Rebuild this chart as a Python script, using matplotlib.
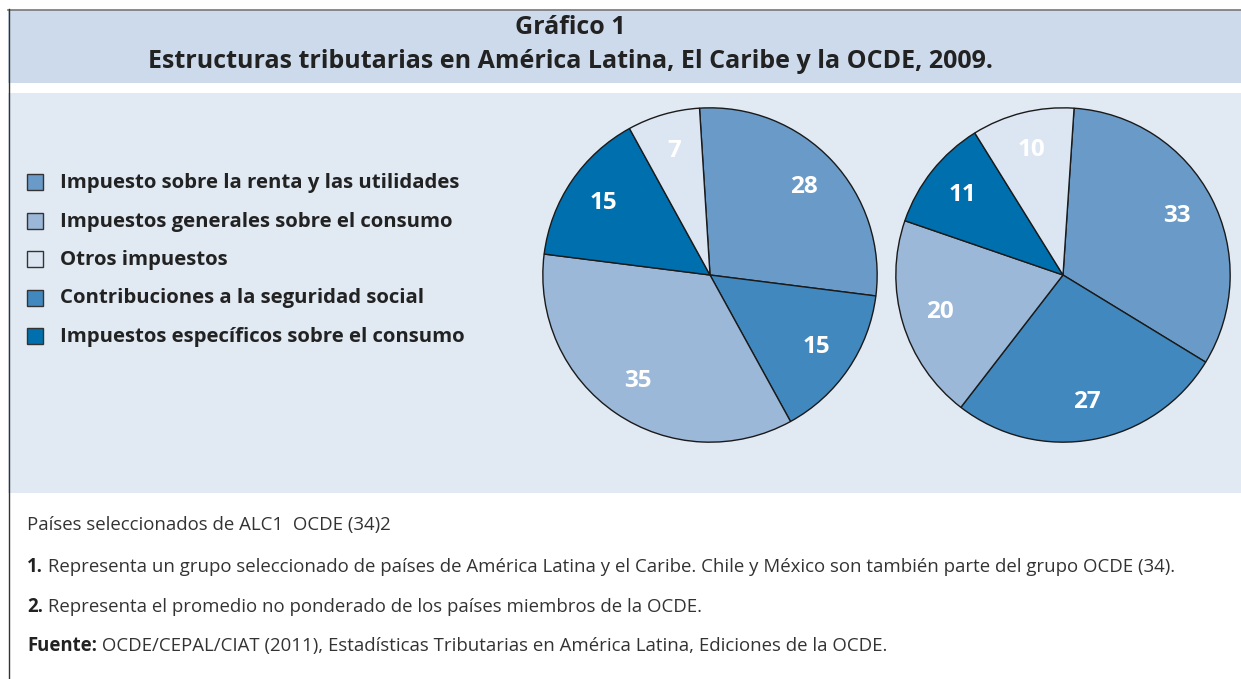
import matplotlib.pyplot as plt
from matplotlib.patches import Rectangle

# Categories in legend order
categories = [
    "Impuesto sobre la renta y las utilidades",
    "Impuestos generales sobre el consumo",
    "Otros impuestos",
    "Contribuciones a la seguridad social",
    "Impuestos específicos sobre el consumo",
]
colors = ["#6a9bc8", "#9cb8d8", "#dce6f2", "#4088be", "#006fae"]

# Shares (%) per category, legend order
alc_values = [28, 35, 7, 15, 15]
ocde_values = [33, 20, 10, 27, 11]

# Order in which the slices go round the pie (clockwise from the top)
pie_order = [0, 3, 1, 4, 2]

title_lines = ["Gráfico 1",
               "Estructuras tributarias en América Latina, El Caribe y la OCDE, 2009."]
subtitle = "Países seleccionados de ALC1  OCDE (34)2"
notes = [
    ("1.", " Representa un grupo seleccionado de países de América Latina y el Caribe. "
           "Chile y México son también parte del grupo OCDE (34)."),
    ("2.", " Representa el promedio no ponderado de los países miembros de la OCDE."),
    ("Fuente:", " OCDE/CEPAL/CIAT (2011), Estadísticas Tributarias en América Latina, "
                "Ediciones de la OCDE."),
]

W, H = 1241, 679
fig = plt.figure(figsize=(W / 100, H / 100), dpi=100)
fig.patch.set_facecolor("white")

# Background axes in pixel coordinates
bg = fig.add_axes([0, 0, 1, 1])
bg.set_xlim(0, W)
bg.set_ylim(H, 0)
bg.axis("off")

bg.add_patch(Rectangle((8, 10), W - 8, 73, facecolor="#ccdaeb", edgecolor="none"))
bg.add_patch(Rectangle((8, 93), W - 8, 400, facecolor="#e1e9f3", edgecolor="none"))
bg.plot([8, W], [9.5, 9.5], color="#777777", lw=1.2)
bg.plot([8.5, 8.5], [9, H], color="#333333", lw=1.0)

font = "Open Sans"

bg.text(570, 28, title_lines[0], ha="center", va="center", fontsize=18,
        fontweight="bold", family=font, color="#222222")
bg.text(570, 61, title_lines[1], ha="center", va="center", fontsize=18,
        fontweight="bold", family=font, color="#222222")

# Legend
for i, (cat, col) in enumerate(zip(categories, colors)):
    y = 182 + i * 38.5
    bg.add_patch(Rectangle((27, y - 8), 16, 16, facecolor=col,
                           edgecolor="#333333", lw=1.0))
    bg.text(60, y + 1, cat, ha="left", va="center", fontsize=14.7,
            fontweight="bold", family=font, color="#222222")

# Footer
bg.text(27, 525, subtitle, ha="left", va="center", fontsize=13.4,
        family=font, color="#333333")
for i, (head, body) in enumerate(notes):
    y = 567 + i * 39.5
    t = bg.text(27, y, head, ha="left", va="center", fontsize=13.4,
                fontweight="bold", family=font, color="#222222")
    bg.annotate(body, xycoords=t, xy=(1, 0.5), va="center", ha="left",
                fontsize=13.4, family=font, color="#333333")

# Pies
def draw_pie(center_x, values, start):
    r = 168
    ax = fig.add_axes([(center_x - r) / W, 1 - (275 + r) / H, 2 * r / W, 2 * r / H])
    vals = [values[k] for k in pie_order]
    cols = [colors[k] for k in pie_order]
    wedges, texts = ax.pie(vals, colors=cols, startangle=start, counterclock=False,
                           labels=[str(v) for v in vals], labeldistance=0.77,
                           wedgeprops=dict(edgecolor="#1a1a1a", linewidth=1.0))
    for t in texts:
        t.set_ha("center")
        t.set_va("center")
        t.set_color("white")
        t.set_fontweight("bold")
        t.set_fontsize(17.5)
        t.set_family(font)
    ax.set_xlim(-1.005, 1.005)
    ax.set_ylim(-1.005, 1.005)
    ax.set_aspect("equal")
    ax.axis("off")

draw_pie(710, alc_values, 93.6)
draw_pie(1063, ocde_values, 86.2)

fig.savefig("out.png", dpi=100, facecolor="white")
